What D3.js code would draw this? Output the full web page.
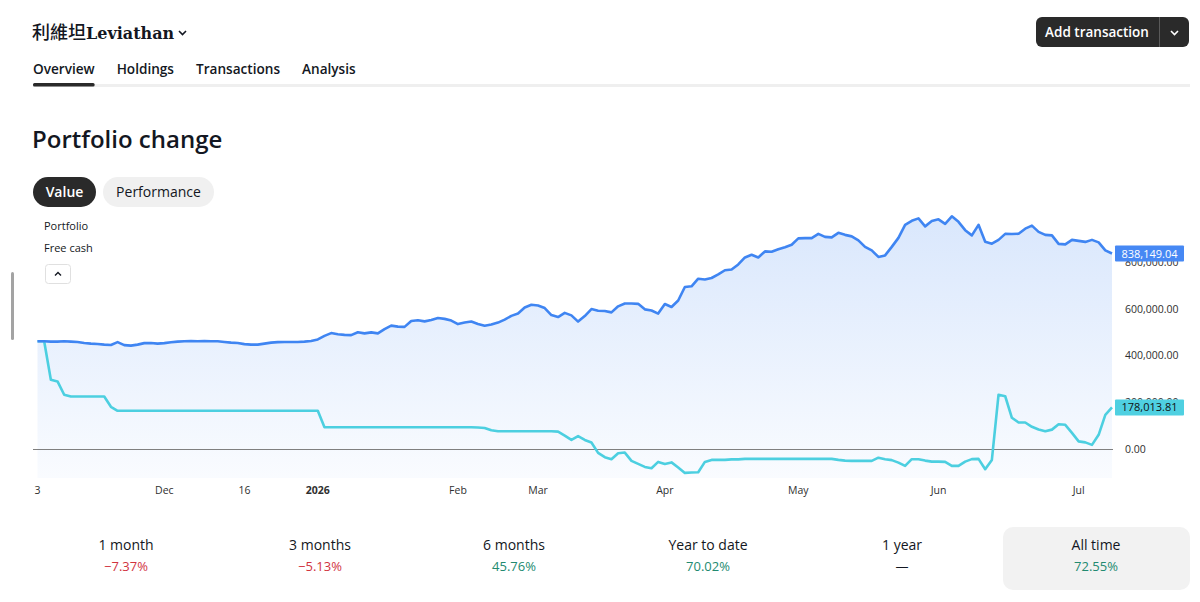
<!DOCTYPE html>
<html>
<head>
<meta charset="utf-8">
<script src="https://cdn.jsdelivr.net/npm/d3@7"></script>
<style>
  body { margin: 0; background: #fff; }
  svg text { font-family: 'Open Sans', 'Noto Sans', sans-serif; }
</style>
</head>
<body>
<div id="chart"></div>
<script>
// daily values, first bar = Nov 3
const portfolioValues = [
  461500, 461500, 460200, 460200, 461500, 460200, 458900, 454600, 451600, 450300,
  447300, 446000, 458100, 445200, 443000, 447300, 453800, 454600, 451600, 453800,
  457200, 460200, 461500, 462400, 461500, 462400, 461500, 461500, 458900, 455900,
  454600, 449500, 447300, 447300, 451600, 455900, 458100, 458900, 458900, 458900,
  460200, 463200, 469700, 484700, 496800, 491600, 489000, 488200, 500200, 495500,
  499800, 495500, 514000, 529000, 524700, 523400, 548400, 551800, 547100, 552700,
  561300, 557800, 550500, 535500, 541900, 546200, 535500, 528200, 533300, 541900,
  554800, 570700, 580600, 606400, 618100, 615000, 604300, 574200, 565600, 583600,
  572900, 546200, 569900, 600000, 592700, 591400, 585800, 611600, 623600, 623600,
  622300, 598700, 593500, 580600, 621500, 608600, 636500, 694600, 697600, 730300,
  726900, 733300, 748400, 766400, 769900, 791400, 821500, 833100, 821500, 847300,
  846000, 856800, 865400, 876100, 903200, 904500, 904500, 922600, 909700, 907500,
  926900, 918300, 911800, 894600, 866700, 851600, 823600, 830100, 866700, 905400,
  961300, 978500, 989200, 954800, 977600, 984900, 965600, 997800, 974200, 938500,
  916100, 961300, 889000, 880400, 896800, 922600, 921700, 923400, 944900, 957800,
  931200, 918300, 916100, 879600, 877400, 896800, 892500, 888200, 896800, 886000,
  851600, 838149.04
];
const freeCashValues = [
  461500, 461500, 296800, 289500, 232300, 224900, 224900, 224900, 224900, 224900,
  224900, 180600, 163400, 163400, 163400, 163400, 163400, 163400, 163400, 163400,
  163400, 163400, 163400, 163400, 163400, 163400, 163400, 163400, 163400, 163400,
  163400, 163400, 163400, 163400, 163400, 163400, 163400, 163400, 163400, 163400,
  163400, 163400, 163400, 92500, 92500, 92500, 92500, 92500, 92500, 92500,
  92500, 92500, 92500, 92500, 92500, 92500, 92500, 92500, 92500, 92500,
  92500, 92500, 92500, 92500, 92500, 92500, 91600, 89500, 79600, 75300,
  75300, 75300, 75300, 75300, 75300, 75300, 75300, 75300, 74000, 57200,
  38700, 54600, 38300, 27100, -17200, -35700, -44300, -18500, -15900, -51600,
  -64500, -77400, -83000, -55900, -64500, -58100, -79600, -103200, -101100, -100200,
  -55900, -47300, -47300, -47300, -45200, -45200, -43000, -43000, -43000, -43000,
  -43000, -43000, -43000, -43000, -43000, -43000, -43000, -43000, -43000, -43000,
  -47300, -50300, -51600, -51600, -51600, -51600, -37800, -44300, -48200, -58900,
  -73100, -44300, -44300, -50300, -54600, -54600, -55900, -73100, -73100, -54600,
  -43900, -43000, -87300, -47300, 232300, 225800, 133300, 113100, 113100, 94600,
  83000, 75300, 82600, 105400, 103200, 68800, 32300, 28000, 17200, 60200,
  146200, 178013.81
];
const tickBars = [0, 19, 31, 42, 63, 75, 94, 114, 135, 156];
const tickLabels = ['3', 'Dec', '16', '2026', 'Feb', 'Mar', 'Apr', 'May', 'Jun', 'Jul'];
const yTicks = [0, 200000, 400000, 600000, 800000];
const tabs = ['Overview', 'Holdings', 'Transactions', 'Analysis'];
const periods = ['1 month', '3 months', '6 months', 'Year to date', '1 year', 'All time'];
const periodReturns = [-7.37, -5.13, 45.76, 70.02, null, 72.55];

const width = 1200;
const height = 602;
const plot = { left: 37.5, right: 1112, top: 210, bottom: 478 };
const colors = {
  portfolio: '#3f85f2',
  cash: '#4ccfe0',
  dark: '#131722',
  button: '#2a2a2a',
  red: '#d1343f',
  green: '#228a70'
};

const svg = d3.select('#chart')
  .append('svg')
  .attr('width', width)
  .attr('height', height);

// ---- header ----
const title = svg.append('text')
  .attr('x', 32)
  .attr('y', 39)
  .attr('fill', colors.dark);
title.append('tspan')
  .style('font-family', "'Noto Sans CJK TC', sans-serif")
  .attr('font-size', 18)
  .attr('font-weight', 500)
  .text('利維坦');
title.append('tspan')
  .style('font-family', "'DejaVu Serif', serif")
  .attr('font-size', 16)
  .attr('font-weight', 700)
  .text('Leviathan');
svg.append('path')
  .attr('d', 'M179,31 L182.5,34.5 L186,31')
  .attr('fill', 'none')
  .attr('stroke', colors.dark)
  .attr('stroke-width', 1.6);

svg.append('rect')
  .attr('x', 1036).attr('y', 17)
  .attr('width', 153).attr('height', 30)
  .attr('rx', 6)
  .attr('fill', colors.button);
svg.append('line')
  .attr('x1', 1159.5).attr('x2', 1159.5)
  .attr('y1', 17).attr('y2', 47)
  .attr('stroke', '#5a5a5a');
svg.append('text')
  .attr('x', 1097).attr('y', 37)
  .attr('text-anchor', 'middle')
  .attr('fill', '#fff')
  .attr('font-size', 13.5)
  .attr('font-weight', 600)
  .text('Add transaction');
svg.append('path')
  .attr('d', 'M1171,31 L1174.5,34.5 L1178,31')
  .attr('fill', 'none')
  .attr('stroke', '#fff')
  .attr('stroke-width', 1.6);

// tabs
let tabX = 33;
const tabGap = 22;
svg.append('rect')
  .attr('x', 33).attr('y', 84)
  .attr('width', 1157).attr('height', 3)
  .attr('fill', '#efefef');
tabs.forEach((tab, idx) => {
  const t = svg.append('text')
    .attr('x', tabX)
    .attr('y', 74)
    .attr('fill', colors.dark)
    .attr('font-size', 13.6)
    .attr('font-weight', 600)
    .text(tab);
  const w = t.node().getComputedTextLength();
  if (idx === 0) {
    svg.append('rect')
      .attr('x', tabX).attr('y', 83)
      .attr('width', w).attr('height', 3.5)
      .attr('rx', 1.5)
      .attr('fill', colors.button);
  }
  tabX += w + tabGap;
});

svg.append('text')
  .attr('x', 32)
  .attr('y', 148)
  .attr('fill', colors.dark)
  .attr('font-size', 24)
  .attr('font-weight', 600)
  .text('Portfolio change');

svg.append('rect')
  .attr('x', 33).attr('y', 177)
  .attr('width', 63).attr('height', 30)
  .attr('rx', 15)
  .attr('fill', colors.button);
svg.append('text')
  .attr('x', 64.5).attr('y', 197)
  .attr('text-anchor', 'middle')
  .attr('fill', '#fff')
  .attr('font-size', 14)
  .attr('font-weight', 600)
  .text('Value');
svg.append('rect')
  .attr('x', 103).attr('y', 177)
  .attr('width', 111).attr('height', 30)
  .attr('rx', 15)
  .attr('fill', '#f0f0f0');
svg.append('text')
  .attr('x', 158.5).attr('y', 197)
  .attr('text-anchor', 'middle')
  .attr('fill', colors.dark)
  .attr('font-size', 14)
  .text('Performance');

// ---- chart ----
const x = d3.scaleLinear()
  .domain([0, portfolioValues.length - 1])
  .range([plot.left, plot.right]);
const y = d3.scaleLinear()
  .domain([-125000, 1025000])
  .range([plot.bottom, plot.top]);

const defs = svg.append('defs');
const grad = defs.append('linearGradient')
  .attr('id', 'portfolio-fill')
  .attr('gradientUnits', 'userSpaceOnUse')
  .attr('x1', 0).attr('x2', 0)
  .attr('y1', plot.top).attr('y2', plot.bottom);
grad.append('stop').attr('offset', 0).attr('stop-color', '#3f85f2').attr('stop-opacity', 0.2);
grad.append('stop').attr('offset', 1).attr('stop-color', '#3f85f2').attr('stop-opacity', 0.03);

const area = d3.area()
  .x((d, i) => x(i))
  .y0(plot.bottom)
  .y1(d => y(d));
svg.append('path')
  .datum(portfolioValues)
  .attr('d', area)
  .attr('fill', 'url(#portfolio-fill)');

// zero line
svg.append('line')
  .attr('x1', 33).attr('x2', 1113)
  .attr('y1', Math.round(y(0)) + 0.5).attr('y2', Math.round(y(0)) + 0.5)
  .attr('stroke', '#7f7f7f')
  .attr('stroke-width', 1);

const line = d3.line()
  .x((d, i) => x(i))
  .y(d => y(d));
svg.append('path')
  .datum(freeCashValues)
  .attr('d', line)
  .attr('fill', 'none')
  .attr('stroke', colors.cash)
  .attr('stroke-width', 2.6)
  .attr('stroke-linejoin', 'round');
svg.append('path')
  .datum(portfolioValues)
  .attr('d', line)
  .attr('fill', 'none')
  .attr('stroke', colors.portfolio)
  .attr('stroke-width', 2.6)
  .attr('stroke-linejoin', 'round');

// y axis labels (the last-value tags sit on top of two of them, as in the app)
const fmt = d3.format(',.2f');
svg.append('g')
  .selectAll('text')
  .data(yTicks)
  .join('text')
  .attr('x', 1125)
  .attr('y', d => y(d))
  .attr('dy', '0.35em')
  .attr('fill', '#2f2f2f')
  .attr('font-size', 10.5)
  .text(d => fmt(d));

// last value labels
const lastLabels = [
  { value: portfolioValues[portfolioValues.length - 1], bg: '#4688f4', fg: '#fff' },
  { value: freeCashValues[freeCashValues.length - 1], bg: '#4fd0e1', fg: '#111' }
];
const lbl = svg.append('g')
  .selectAll('g')
  .data(lastLabels)
  .join('g')
  .attr('transform', d => `translate(1115,${y(d.value)})`);
lbl.append('rect')
  .attr('x', 0).attr('y', -8)
  .attr('width', 69).attr('height', 16)
  .attr('rx', 1)
  .attr('fill', d => d.bg);
lbl.append('text')
  .attr('x', 34.5)
  .attr('dy', '0.36em')
  .attr('text-anchor', 'middle')
  .attr('fill', d => d.fg)
  .attr('font-size', 11)
  .text(d => fmt(d.value));

// x axis labels
svg.append('g')
  .selectAll('text')
  .data(tickBars)
  .join('text')
  .attr('x', d => x(d))
  .attr('y', 494)
  .attr('text-anchor', 'middle')
  .attr('fill', '#2f2f2f')
  .attr('font-size', 10.5)
  .attr('font-weight', (d, i) => (tickLabels[i] === '2026' ? 700 : 400))
  .text((d, i) => tickLabels[i]);

// legend
svg.append('g')
  .selectAll('text')
  .data(['Portfolio', 'Free cash'])
  .join('text')
  .attr('x', 44)
  .attr('y', (d, i) => 230 + i * 22)
  .attr('fill', colors.dark)
  .attr('font-size', 11)
  .text(d => d);
svg.append('rect')
  .attr('x', 45.5).attr('y', 264.5)
  .attr('width', 25).attr('height', 19)
  .attr('rx', 3)
  .attr('fill', '#fff')
  .attr('stroke', '#e0e0e0');
svg.append('path')
  .attr('d', 'M55,275.5 L58,272.5 L61,275.5')
  .attr('fill', 'none')
  .attr('stroke', colors.dark)
  .attr('stroke-width', 1.4);

// scrollbar stub on the left
svg.append('rect')
  .attr('x', 11).attr('y', 272)
  .attr('width', 3).attr('height', 68)
  .attr('rx', 1.5)
  .attr('fill', '#a3a3a3');

// ---- period returns ----
const band = d3.scaleBand()
  .domain(periods)
  .range([29, 1193]);
svg.append('rect')
  .attr('x', 1003).attr('y', 527)
  .attr('width', 187).attr('height', 63)
  .attr('rx', 10)
  .attr('fill', '#f2f2f2');
const stat = svg.append('g')
  .selectAll('g')
  .data(periods)
  .join('g')
  .attr('transform', d => `translate(${band(d) + band.bandwidth() / 2},0)`);
stat.append('text')
  .attr('y', 550)
  .attr('text-anchor', 'middle')
  .attr('fill', colors.dark)
  .attr('font-size', 14)
  .text(d => d);
stat.append('text')
  .attr('y', 571)
  .attr('text-anchor', 'middle')
  .attr('font-size', 13)
  .attr('fill', (d, i) => {
    const v = periodReturns[i];
    if (v === null) return colors.dark;
    return v < 0 ? colors.red : colors.green;
  })
  .text((d, i) => {
    const v = periodReturns[i];
    if (v === null) return '\u2014';
    return (v < 0 ? '\u2212' : '') + Math.abs(v).toFixed(2) + '%';
  });
</script>
</body>
</html>
